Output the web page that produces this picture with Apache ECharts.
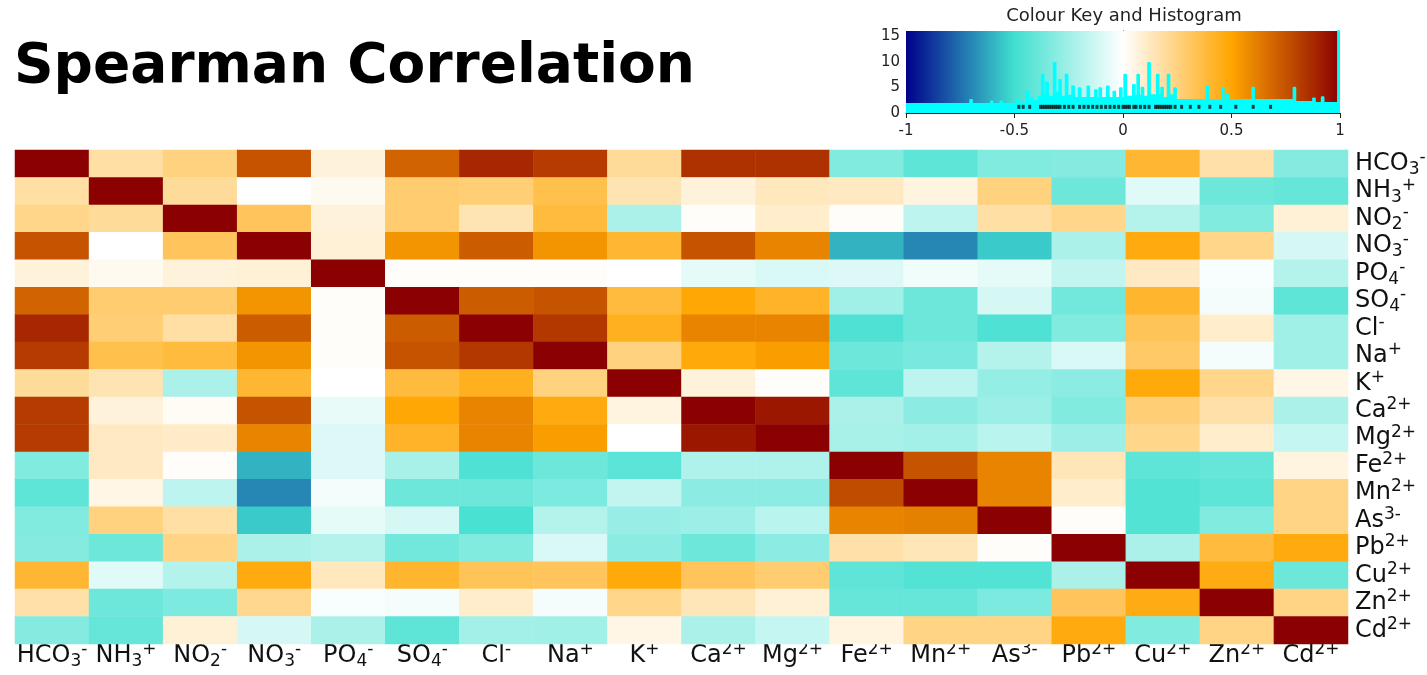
<!DOCTYPE html>
<html>
<head>
<meta charset="utf-8">
<title>Spearman Correlation</title>
<script src="https://cdn.jsdelivr.net/npm/echarts@6/dist/echarts.min.js"></script>
<style>
  html, body { margin: 0; padding: 0; background: #ffffff; }
  #chart { width: 1427px; height: 675px; }
</style>
</head>
<body>
<div id="chart"></div>
<script>
// Ion names split into base text, subscript and charge (superscript)
const ionBase   = ['HCO', 'NH', 'NO', 'NO', 'PO', 'SO', 'Cl', 'Na', 'K', 'Ca', 'Mg', 'Fe', 'Mn', 'As', 'Pb', 'Cu', 'Zn', 'Cd'];
const ionSub    = ['3', '3', '2', '3', '4', '4', '', '', '', '', '', '', '', '', '', '', '', ''];
const ionCharge = ['-', '+', '-', '-', '-', '-', '-', '+', '+', '2+', '2+', '2+', '2+', '3-', '2+', '2+', '2+', '2+'];
const ions = ionBase.map((b, i) => b + ionSub[i] + ionCharge[i]);

// Spearman rank correlation matrix (rows and columns in the order of `ions`)
const spearman = [
  [ 1.00,  0.18,  0.25,  0.75,  0.07,  0.70,  0.88,  0.82,  0.20,  0.85,  0.85, -0.33, -0.42, -0.33, -0.32,  0.40,  0.17, -0.32],
  [ 0.18,  1.00,  0.20,  0.00,  0.03,  0.28,  0.27,  0.35,  0.15,  0.07,  0.13,  0.12,  0.06,  0.25, -0.38, -0.08, -0.38, -0.40],
  [ 0.23,  0.20,  1.00,  0.32,  0.07,  0.28,  0.15,  0.38, -0.22,  0.01,  0.10,  0.01, -0.17,  0.18,  0.23, -0.20, -0.33,  0.08],
  [ 0.75,  0.00,  0.32,  1.00,  0.08,  0.55,  0.72,  0.55,  0.40,  0.75,  0.60, -0.60, -0.70, -0.55, -0.22,  0.47,  0.23, -0.11],
  [ 0.07,  0.03,  0.07,  0.08,  1.00,  0.01,  0.01,  0.01,  0.00, -0.07, -0.10, -0.09, -0.04, -0.07, -0.16,  0.12, -0.02, -0.20],
  [ 0.70,  0.28,  0.28,  0.55,  0.01,  1.00,  0.72,  0.75,  0.38,  0.49,  0.42, -0.25, -0.38, -0.11, -0.37,  0.41, -0.03, -0.42],
  [ 0.88,  0.27,  0.18,  0.72,  0.01,  0.72,  1.00,  0.83,  0.44,  0.60,  0.60, -0.46, -0.38, -0.46, -0.33,  0.33,  0.10, -0.25],
  [ 0.82,  0.35,  0.38,  0.55,  0.01,  0.75,  0.83,  1.00,  0.25,  0.48,  0.52, -0.38, -0.35, -0.20, -0.10,  0.30, -0.03, -0.25],
  [ 0.20,  0.15, -0.22,  0.40,  0.00,  0.38,  0.44,  0.25,  1.00,  0.07,  0.01, -0.42, -0.17, -0.28, -0.30,  0.48,  0.23,  0.05],
  [ 0.82,  0.07,  0.02,  0.75, -0.06,  0.49,  0.60,  0.47,  0.06,  1.00,  0.93, -0.22, -0.30, -0.26, -0.33,  0.27,  0.17, -0.22],
  [ 0.82,  0.12,  0.11,  0.60, -0.09,  0.42,  0.60,  0.52,  0.00,  0.93,  1.00, -0.23, -0.24, -0.18, -0.26,  0.23,  0.10, -0.15],
  [-0.33,  0.12,  0.01, -0.60, -0.09, -0.23, -0.46, -0.38, -0.43, -0.21, -0.21,  1.00,  0.75,  0.60,  0.14, -0.42, -0.40,  0.06],
  [-0.42,  0.05, -0.17, -0.70, -0.03, -0.38, -0.38, -0.34, -0.16, -0.30, -0.30,  0.77,  1.00,  0.60,  0.10, -0.45, -0.42,  0.24],
  [-0.33,  0.25,  0.18, -0.55, -0.07, -0.11, -0.48, -0.20, -0.27, -0.26, -0.18,  0.60,  0.61,  1.00,  0.01, -0.45, -0.33,  0.24],
  [-0.32, -0.38,  0.24, -0.22, -0.20, -0.37, -0.33, -0.10, -0.30, -0.38, -0.30,  0.17,  0.14,  0.01,  1.00, -0.22,  0.38,  0.47],
  [ 0.40, -0.08, -0.20,  0.47,  0.13,  0.41,  0.33,  0.32,  0.48,  0.32,  0.28, -0.42, -0.45, -0.45, -0.22,  1.00,  0.46, -0.38],
  [ 0.17, -0.38, -0.34,  0.22, -0.02, -0.03,  0.10, -0.03,  0.23,  0.14,  0.08, -0.40, -0.40, -0.34,  0.32,  0.46,  1.00,  0.24],
  [-0.32, -0.40,  0.08, -0.11, -0.22, -0.42, -0.24, -0.25,  0.05, -0.22, -0.15,  0.06,  0.24,  0.24,  0.47, -0.33,  0.24,  1.00]
];

// Colour key: value range, palette and histogram of the correlations
const keyRange = [-1, 1];
const keyTop = 16;
const keyTicksY = [0, 5, 10, 15];
const palette = ['#00008B', '#40E0D0', '#FFFFFF', '#FFA500', '#8B0000'];
const histogramSteps = [
  [-1.00, 1.8], [-0.705, 2.6], [-0.695, 1.8], [-0.61, 2.3], [-0.60, 1.8], [-0.565, 2.3], [-0.555, 1.8],
  [-0.49, 2.4], [-0.48, 1.9], [-0.445, 4.2], [-0.435, 2.2], [-0.425, 3.0], [-0.415, 2.4], [-0.39, 3.2],
  [-0.375, 7.5], [-0.365, 3.6], [-0.355, 6.0], [-0.345, 3.2], [-0.32, 9.8], [-0.31, 4.0], [-0.295, 6.5],
  [-0.285, 3.2], [-0.265, 7.5], [-0.255, 3.4], [-0.235, 5.2], [-0.225, 3.0], [-0.205, 4.9], [-0.195, 3.0],
  [-0.165, 5.2], [-0.155, 3.0], [-0.13, 4.5], [-0.12, 3.0], [-0.11, 4.9], [-0.10, 3.0], [-0.075, 5.2],
  [-0.065, 3.0], [-0.045, 4.2], [-0.035, 3.0], [-0.015, 4.9], [-0.005, 3.0], [0.005, 7.5], [0.015, 3.2],
  [0.045, 5.5], [0.055, 3.4], [0.065, 7.5], [0.075, 3.4], [0.085, 5.0], [0.095, 3.2], [0.115, 9.8],
  [0.125, 3.5], [0.155, 7.5], [0.165, 3.5], [0.175, 5.0], [0.185, 3.0], [0.205, 7.5], [0.215, 3.5],
  [0.235, 4.9], [0.245, 2.6], [0.385, 5.2], [0.395, 2.6], [0.455, 5.0], [0.465, 2.6], [0.475, 3.6],
  [0.485, 2.6], [0.595, 5.0], [0.605, 2.6], [0.785, 5.0], [0.795, 2.2], [0.875, 2.9], [0.885, 2.0],
  [0.915, 3.1], [0.925, 2.0], [0.99, 18], [1.00, 18]
];
const rugMarks = [
  -0.48, -0.46, -0.43, -0.38, -0.37, -0.36, -0.35, -0.34, -0.33, -0.32, -0.31, -0.30, -0.29, -0.27,
  -0.25, -0.23, -0.20, -0.18, -0.16, -0.14, -0.12, -0.10, -0.08, -0.06, -0.04, -0.02, 0.00, 0.01,
  0.02, 0.03, 0.05, 0.06, 0.08, 0.10, 0.12, 0.15, 0.16, 0.17, 0.18, 0.19, 0.20, 0.21, 0.22, 0.24,
  0.27, 0.31, 0.35, 0.40, 0.45, 0.52, 0.60, 0.68
];

const heatData = [];
spearman.forEach((row, i) => row.forEach((v, j) => heatData.push([j, i, v])));

const labelFont = 'DejaVu Sans';
const ionRich = {
  b:   { fontFamily: labelFont, fontSize: 24, lineHeight: 29, color: '#111' },
  sub: { fontFamily: labelFont, fontSize: 17, lineHeight: 14, verticalAlign: 'bottom', color: '#111' },
  sup: { fontFamily: labelFont, fontSize: 17, lineHeight: 14, verticalAlign: 'top', color: '#111' }
};
function ionLabel(value, index) {
  let s = '{b|' + ionBase[index] + '}';
  if (ionSub[index]) s += '{sub|' + ionSub[index] + '}';
  s += '{sup|' + ionCharge[index] + '}';
  return s;
}

const chart = echarts.init(document.getElementById('chart'), null, { renderer: 'canvas' });

chart.setOption({
  backgroundColor: '#ffffff',
  animation: false,
  title: [
    {
      text: 'Spearman Correlation',
      left: 14, top: 40, padding: 0,
      textStyle: { fontFamily: 'DejaVu Sans', fontWeight: 'bold', fontSize: 55, color: '#000' }
    },
    {
      text: 'Colour Key and Histogram',
      left: 1124, top: 7, padding: 0, textAlign: 'center',
      textStyle: { fontFamily: 'DejaVu Sans', fontWeight: 'normal', fontSize: 18, color: '#222' }
    }
  ],
  grid: [
    { left: 15, top: 150, width: 1333, height: 494, outerBoundsMode: 'none' },
    { left: 906, top: 31, width: 434, height: 82, outerBoundsMode: 'none' }
  ],
  xAxis: [
    {
      type: 'category', gridIndex: 0, data: ions, position: 'bottom',
      axisLine: { show: false }, axisTick: { show: false }, splitLine: { show: false },
      axisLabel: { interval: 0, margin: -3, formatter: ionLabel, rich: ionRich }
    },
    {
      type: 'value', gridIndex: 1, min: keyRange[0], max: keyRange[1], interval: 0.5,
      axisLine: { show: true, lineStyle: { color: '#222', width: 1 } },
      axisTick: { show: true, length: 5, lineStyle: { color: '#222' } },
      splitLine: { show: false },
      axisLabel: { margin: 11, fontFamily: 'DejaVu Sans', fontSize: 15, color: '#222' }
    }
  ],
  yAxis: [
    {
      type: 'category', gridIndex: 0, data: ions, inverse: true, position: 'right',
      axisLine: { show: false }, axisTick: { show: false }, splitLine: { show: false },
      axisLabel: { interval: 0, margin: 7, align: 'left', formatter: ionLabel, rich: ionRich }
    },
    {
      type: 'value', gridIndex: 1, min: 0, max: keyTop,
      axisLine: { show: true, lineStyle: { color: '#222', width: 1 } },
      axisTick: { show: true, length: 5, customValues: keyTicksY, lineStyle: { color: '#222' } },
      splitLine: { show: false },
      axisLabel: { margin: 6, customValues: keyTicksY, fontFamily: 'DejaVu Sans', fontSize: 15, color: '#222' }
    }
  ],
  visualMap: {
    type: 'continuous', show: false, seriesIndex: 0, dimension: 2,
    min: keyRange[0], max: keyRange[1],
    inRange: { color: palette }
  },
  series: [
    {
      type: 'heatmap', xAxisIndex: 0, yAxisIndex: 0, data: heatData,
      label: { show: false }, emphasis: { disabled: true }, silent: true,
      itemStyle: { borderWidth: 0 }
    },
    {
      // colour gradient of the key, spanning the full value range
      type: 'custom', xAxisIndex: 1, yAxisIndex: 1, silent: true, z: 1,
      data: [[keyRange[0], keyRange[1], keyTop]],
      renderItem: function (params, api) {
        const p0 = api.coord([api.value(0), api.value(2)]);
        const p1 = api.coord([api.value(1), 0]);
        return {
          type: 'rect',
          shape: { x: p0[0], y: p0[1], width: p1[0] - p0[0], height: p1[1] - p0[1] },
          style: {
            fill: new echarts.graphic.LinearGradient(0, 0, 1, 0,
              palette.map((c, k) => ({ offset: k / (palette.length - 1), color: c })))
          }
        };
      }
    },
    {
      // histogram of the correlation values
      type: 'line', xAxisIndex: 1, yAxisIndex: 1, step: 'end', z: 2, silent: true,
      data: histogramSteps, showSymbol: false, symbol: 'none', clip: true,
      lineStyle: { color: '#00FFFF', width: 1.5 },
      areaStyle: { color: '#00FFFF', opacity: 1 }
    },
    {
      type: 'scatter', xAxisIndex: 1, yAxisIndex: 1, z: 3, silent: true,
      data: rugMarks.map(v => [v, 1.2]),
      symbol: 'rect', symbolSize: [3, 4],
      itemStyle: { color: '#111' }
    }
  ]
});
</script>
</body>
</html>
